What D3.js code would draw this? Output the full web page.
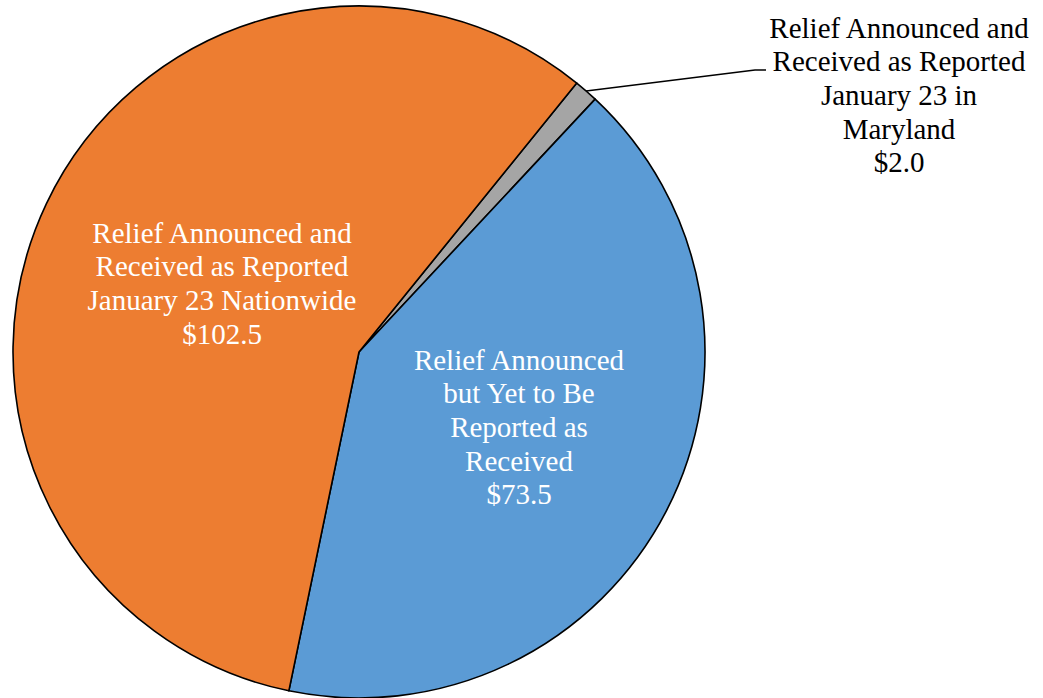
<!DOCTYPE html>
<html>
<head>
<meta charset="utf-8">
<script src="https://cdn.jsdelivr.net/npm/d3@7"></script>
<style>
  html, body { margin: 0; padding: 0; background: #fff; }
  svg { display: block; }
</style>
</head>
<body>
<svg id="chart" width="1043" height="698"></svg>
<script>
// Slices in drawing order (clockwise from the start angle)
const categories = [
  "Relief Announced and Received as Reported January 23 in Maryland",
  "Relief Announced but Yet to Be Reported as Received",
  "Relief Announced and Received as Reported January 23 Nationwide"
];
const values = [2.0, 73.5, 102.5];
const labelLines = [
  ["Relief Announced and", "Received as Reported", "January 23 in", "Maryland", "$2.0"],
  ["Relief Announced", "but Yet to Be", "Reported as", "Received", "$73.5"],
  ["Relief Announced and", "Received as Reported", "January 23 Nationwide", "$102.5"]
];
const colors = ["#A5A5A5", "#5B9BD5", "#ED7D31"];

const svg = d3.select("#chart");
const cx = 359, cy = 352, r = 346;
const startDeg = 39;

const pie = d3.pie().sort(null).value(d => d)
  .startAngle(startDeg * Math.PI / 180)
  .endAngle((startDeg + 360) * Math.PI / 180);
const arcs = pie(values);
const arc = d3.arc().innerRadius(0).outerRadius(r);

const g = svg.append("g").attr("transform", `translate(${cx},${cy})`);
g.selectAll("path.slice")
  .data(arcs)
  .join("path")
  .attr("class", "slice")
  .attr("d", arc)
  .attr("fill", (d, i) => colors[i])
  .attr("stroke", "#000")
  .attr("stroke-width", 1.6)
  .attr("stroke-linejoin", "round");

const fontFamily = "'Liberation Serif', 'Times New Roman', Times, serif";
const fontSize = 29;
const lineH = 33.7;

// Label positions: inside labels for the two large slices, callout for the small one
const labelPos = [
  { x: 899, y: 28, color: "#000" },
  { x: 519, y: 360, color: "#fff" },
  { x: 222, y: 233, color: "#fff" }
];

arcs.forEach((a, i) => {
  const p = labelPos[i];
  const t = svg.append("text")
    .attr("text-anchor", "middle")
    .attr("font-family", fontFamily)
    .attr("font-size", fontSize)
    .attr("fill", p.color);
  labelLines[i].forEach((ln, k) => {
    t.append("tspan")
      .attr("x", p.x)
      .attr("y", p.y + k * lineH)
      .attr("dy", "0.33em")
      .text(ln);
  });
});

// Leader line for the small slice
const small = arcs[0];
const midA = (small.startAngle + small.endAngle) / 2;
const ex = cx + Math.sin(midA) * r;
const ey = cy - Math.cos(midA) * r;
svg.append("path")
  .attr("d", `M${ex},${ey} L755,70 L766,70`)
  .attr("fill", "none")
  .attr("stroke", "#000")
  .attr("stroke-width", 1.6);
</script>
</body>
</html>
